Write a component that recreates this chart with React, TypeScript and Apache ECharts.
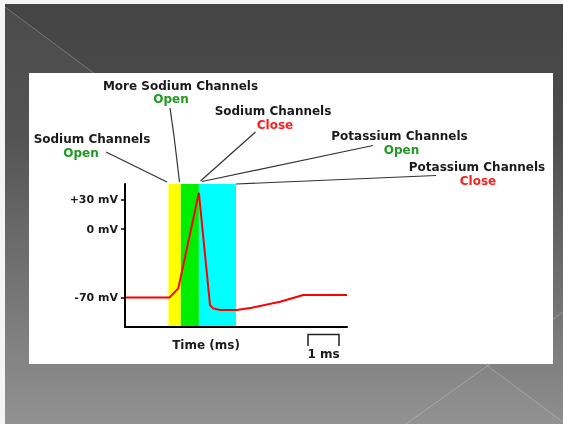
import React, { useEffect, useRef } from "react";
import * as echarts from "echarts";

// Membrane potential trace (time in ms, potential in mV)
const times = [0, 1.4, 1.68, 2.33, 2.68, 2.78, 3.0, 3.52, 4.0, 4.89, 5.62, 7.0];
const voltages = [-70, -70, -60.6, 37, -77.5, -81, -82.6, -82.6, -80.3, -74.2, -67.4, -67.4];

// Channel phases (shaded bands)
const bandStarts = [1.37, 1.76, 2.33];
const bandEnds = [1.76, 2.33, 3.5];
const bandColors = ["#ffff00", "#00ee00", "#00ffff"];

// Y axis tick values
const yTicks = [30, 0, -70];

const FONT = "'DejaVu Sans', Verdana, sans-serif";
const DARK = "#1a1a1a";
const GREEN = "#1f9a1f";
const RED = "#ff1a1a";

function txt(text: string, x: number, y: number, color: string) {
  return {
    type: "text",
    z: 10,
    x,
    y,
    style: {
      text,
      fill: color,
      font: `bold 12px ${FONT}`,
      lineHeight: 11,
      align: "center",
      verticalAlign: "middle",
    },
  };
}

function seg(points: number[][]) {
  return {
    type: "polyline",
    z: 10,
    shape: { points },
    style: { stroke: "#333", lineWidth: 1.2, fill: null },
  };
}

export default function App() {
  const ref = useRef<HTMLDivElement>(null);

  useEffect(() => {
    if (!ref.current) return;
    const chart = echarts.init(ref.current, undefined, { renderer: "svg" });

    const graphic: any[] = [
      // page border
      { type: "rect", z: 0, shape: { x: 0, y: 0, width: 563, height: 424 }, style: { fill: "#f4f4f4" } },
      // slide background
      {
        type: "rect",
        z: 0,
        shape: { x: 5, y: 4, width: 558, height: 420 },
        style: {
          fill: new echarts.graphic.LinearGradient(0, 0, 0, 1, [
            { offset: 0, color: "#444444" },
            { offset: 0.3, color: "#4c4c4c" },
            { offset: 1, color: "#8e8e8e" },
          ]),
        },
      },
      {
        type: "polygon",
        z: 0,
        shape: { points: [[5, 7], [563, 422], [563, 424], [5, 424]] },
        style: { fill: "rgba(255,255,255,0.04)" },
      },
      {
        type: "line",
        z: 0,
        shape: { x1: 5, y1: 7, x2: 563, y2: 422 },
        style: { stroke: "rgba(255,255,255,0.25)", lineWidth: 1 },
      },
      {
        type: "line",
        z: 0,
        shape: { x1: 406, y1: 424, x2: 563, y2: 312 },
        style: { stroke: "rgba(255,255,255,0.25)", lineWidth: 1 },
      },
      // white panel
      { type: "rect", z: 0, shape: { x: 29, y: 73, width: 524, height: 291 }, style: { fill: "#ffffff" } },

      // annotations
      txt("More Sodium Channels", 180.5, 86, DARK),
      txt("Open", 171, 99, GREEN),
      txt("Sodium Channels", 273, 111, DARK),
      txt("Close", 275, 124.5, RED),
      txt("Sodium Channels", 92, 138.5, DARK),
      txt("Open", 81, 152.5, GREEN),
      txt("Potassium Channels", 399.5, 136, DARK),
      txt("Open", 401.5, 149.5, GREEN),
      txt("Potassium Channels", 477, 166.5, DARK),
      txt("Close", 478, 180.5, RED),

      seg([[106, 152], [167, 182]]),
      seg([[170, 108], [174, 136], [179.5, 182]]),
      seg([[255.5, 132], [200.5, 181]]),
      seg([[373, 145.5], [202, 181.5]]),
      seg([[436, 175.5], [236, 184]]),

      txt("Time (ms)", 206, 344.5, DARK),
      // 1 ms scale bar
      {
        type: "polyline",
        z: 10,
        shape: { points: [[308, 346], [308, 334.5], [339, 334.5], [339, 346]] },
        style: { stroke: "#222", lineWidth: 1.5, fill: null },
      },
      txt("1 ms", 323.5, 354, DARK),
    ];

    const option: any = {
      animation: false,
      graphic,
      grid: { left: 125, top: 184, width: 222, height: 143, containLabel: false },
      xAxis: {
        type: "value",
        min: 0,
        max: 7,
        z: 6,
        axisLine: { show: true, onZero: false, lineStyle: { color: "#000", width: 2 } },
        axisTick: { show: false },
        axisLabel: { show: false },
        splitLine: { show: false },
      },
      yAxis: {
        type: "value",
        min: -100,
        max: 46,
        z: 6,
        axisLine: { show: true, onZero: false, lineStyle: { color: "#000", width: 2 } },
        axisTick: {
          show: true,
          customValues: yTicks,
          length: 4,
          lineStyle: { color: "#000", width: 1.5 },
        },
        axisLabel: {
          show: true,
          customValues: yTicks,
          margin: 7,
          color: DARK,
          fontFamily: FONT,
          fontWeight: "bold",
          fontSize: 11,
          formatter: (v: number) => (v > 0 ? `+${v} mV` : `${v} mV`),
        },
        splitLine: { show: false },
      },
      series: [
        {
          type: "line",
          z: 2,
          data: [],
          silent: true,
          markArea: {
            silent: true,
            label: { show: false },
            data: bandStarts.map((s, i) => [
              { xAxis: s, itemStyle: { color: bandColors[i], opacity: 1 } },
              { xAxis: bandEnds[i] },
            ]),
          },
        },
        {
          type: "line",
          z: 4,
          data: times.map((t, i) => [t, voltages[i]]),
          symbol: "none",
          lineStyle: { color: "#ff0000", width: 2 },
          silent: true,
        },
      ],
    };

    chart.setOption(option);
    return () => chart.dispose();
  }, []);

  return (
    <div
      ref={ref}
      style={{ position: "fixed", left: 0, top: 0, width: 563, height: 424 }}
    />
  );
}
